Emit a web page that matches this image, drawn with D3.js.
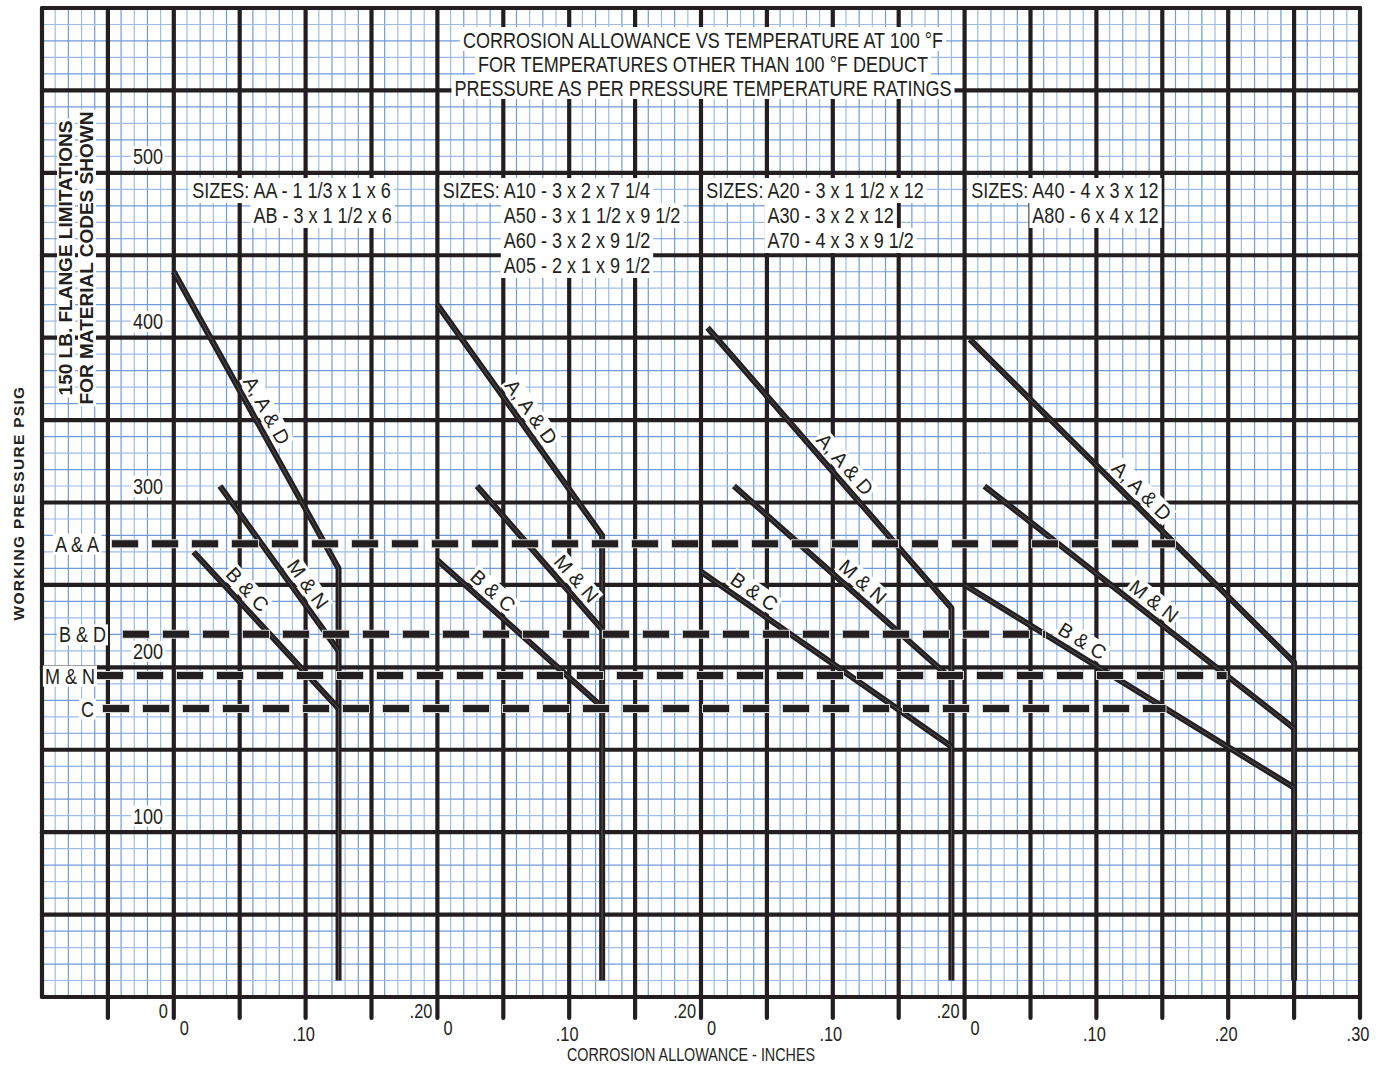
<!DOCTYPE html>
<html>
<head>
<meta charset="utf-8">
<script src="https://cdnjs.cloudflare.com/ajax/libs/d3/7.8.5/d3.min.js"></script>
<style>
    body { margin: 0; background: #fff; }
    text { font-family: "Liberation Sans", Arial, sans-serif; fill: #231f20; }
</style>
</head>
<body>
<svg id="chart" width="1383" height="1065"></svg>
<script>
// ---- data ----
const titleLines = [
    "CORROSION ALLOWANCE VS TEMPERATURE AT 100 \u00b0F",
    "FOR TEMPERATURES OTHER THAN 100 \u00b0F DEDUCT",
    "PRESSURE AS PER PRESSURE TEMPERATURE RATINGS"
];

const sizeLabels = [
    ["AA - 1 1/3 x 1 x 6", "AB - 3 x 1 1/2 x 6"],
    ["A10 - 3 x 2 x 7 1/4", "A50 - 3 x 1 1/2 x 9 1/2", "A60 - 3 x 2 x 9 1/2", "A05 - 2 x 1 x 9 1/2"],
    ["A20 - 3 x 1 1/2 x 12", "A30 - 3 x 2 x 12", "A70 - 4 x 3 x 9 1/2"],
    ["A40 - 4 x 3 x 12", "A80 - 6 x 4 x 12"]
];

const seriesNames = ["A, A & D", "M & N", "B & C"];

// per panel: start corrosion allowance (in) and pressure (psig) of each series
const startX = [[0, 0.035, 0.015], [0, 0.03, 0], [0.005, 0.025, 0], [0.004, 0.015, 0]];
const startPsi = [[430, 300, 260], [410, 300, 255], [396, 300, 248], [389, 300, 240]];
// per panel: end allowance (where the drop line is) and end pressure
const endX = [0.125, 0.125, 0.19, 0.25];
const endPsi = [[250, 200, 165], [270, 213, 166], [226, 183, 142], [193, 153, 117]];

const limitNames = ["A & A", "B & D", "M & N", "C"];
const limitPsi = [265, 210, 185, 165];
const limitEndSeries = [0, 2, 1, 2];   // series in last panel where the dashed line stops

const yTicks = [100, 200, 300, 400, 500];
const xTicks = [0, 0.10, 0.20, 0.30];
const xTickLabels = ["0", ".10", ".20", ".30"];

// ---- layout ----
const SX = 0.82;                         // condensed type
const panelCols = [10, 30, 50, 70];     // grid column of each panel's zero
const sizesAt = [0.014, 0.004, 0.004, 0.005];
const labelT = [[0.49, 0.645, 0.30], [0.50, 0.71, 0.28], [0.52, 0.55, 0.18], [0.50, 0.52, 0.335]];
const limitLabelRight = [99, 106, 95, 94];
const limitDashStart = [112, 123, 97, 103];

let svg = d3.select("#chart");

let grid = d3.scaleLinear().domain([0, 100]).range([42, 1360]);
let y = d3.scaleLinear().domain([-10, 590]).range([997, 8]);
let x = panelCols.map(c => d3.scaleLinear().domain([0, 0.30]).range([grid(c), grid(c + 30)]));

// ---- graph paper ----
let paper = svg.append("g");
let rows = d3.range(-10, 591, 10);
let cols = d3.range(0, 101, 1);
let fineColor = (i) => i % 2 ? "#9dbce8" : "#6f9bd9";

paper.selectAll(".fv").data(cols.filter(c => c % 5 !== 0)).enter().append("line")
    .attr("x1", d => grid(d)).attr("x2", d => grid(d))
    .attr("y1", y(590)).attr("y2", y(-10))
    .attr("stroke", d => fineColor(d)).attr("stroke-width", 1.2);

paper.selectAll(".fh").data(rows.filter(v => (v + 10) % 50 !== 0)).enter().append("line")
    .attr("x1", grid(0)).attr("x2", grid(100))
    .attr("y1", d => y(d)).attr("y2", d => y(d))
    .attr("stroke", d => fineColor(d / 10 + 1)).attr("stroke-width", 1.2);

paper.selectAll(".hv").data(cols.filter(c => c % 5 === 0)).enter().append("line")
    .attr("x1", d => grid(d)).attr("x2", d => grid(d))
    .attr("y1", y(590)).attr("y2", d => d === 0 ? y(-10) : y(-10) + 21)
    .attr("stroke", "#231f20").attr("stroke-width", 4.2).attr("stroke-linecap", "round");

paper.selectAll(".hh").data(rows.filter(v => (v + 10) % 50 === 0)).enter().append("line")
    .attr("x1", grid(0)).attr("x2", grid(100))
    .attr("y1", d => y(d)).attr("y2", d => y(d))
    .attr("stroke", "#231f20").attr("stroke-width", 4.2).attr("stroke-linecap", "round");

// ---- series lines ----
let lineGen = d3.line().x(d => d[0]).y(d => d[1]);
let curves = svg.append("g");

function segment(p, s) {
    return [[x[p](startX[p][s]), y(startPsi[p][s])], [x[p](endX[p]), y(endPsi[p][s])]];
}

panelCols.forEach((c, p) => {
    seriesNames.forEach((name, s) => {
        let pts = segment(p, s);
        if (s === 0) pts.push([x[p](endX[p]), y(0)]);
        curves.append("path").attr("d", lineGen(pts))
            .attr("fill", "none").attr("stroke", "#231f20")
            .attr("stroke-width", 6).attr("stroke-linejoin", "round");
        curves.append("path").attr("d", lineGen(pts))
            .attr("fill", "none").attr("stroke", "#9a9a9a")
            .attr("stroke-width", 0.6).attr("opacity", 0.7);
    });
});

// ---- flange limit dashed lines ----
let limits = svg.append("g");
limitNames.forEach((name, i) => {
    let seg = segment(3, limitEndSeries[i]);
    let yy = y(limitPsi[i]);
    let t = (yy - seg[0][1]) / (seg[1][1] - seg[0][1]);
    let xEnd = seg[0][0] + t * (seg[1][0] - seg[0][0]);
    limits.append("line")
        .attr("x1", limitDashStart[i] - 1).attr("x2", xEnd + 1)
        .attr("y1", yy).attr("y2", yy)
        .attr("stroke", "#d4d4d4").attr("stroke-width", 9)
        .attr("stroke-dasharray", "28,12");
    limits.append("line")
        .attr("x1", limitDashStart[i]).attr("x2", xEnd)
        .attr("y1", yy).attr("y2", yy)
        .attr("stroke", "#231f20").attr("stroke-width", 7)
        .attr("stroke-dasharray", "26,14");
});

// ---- text ----
let texts = svg.append("g");

function addLabel(parent, str, o) {
    let sx = o.sx || 1;
    let g = parent.append("g")
        .attr("transform", "translate(" + o.x + "," + o.y + ")" +
            (o.rotate ? " rotate(" + o.rotate + ")" : "") + " scale(" + sx + ",1)");
    let box = g.append("rect").attr("fill", "#fff");
    let t = g.append("text")
        .attr("text-anchor", o.anchor || "start")
        .attr("dy", o.dy || 0)
        .style("font-size", o.size + "px")
        .style("font-weight", o.weight || "normal")
        .style("letter-spacing", o.ls ? o.ls + "px" : null)
        .text(str);
    if (o.box) {
        let b = t.node().getBBox();
        let px = o.box[2] / sx;
        box.attr("x", b.x - px).attr("width", b.width + 2 * px)
            .attr("y", -o.box[0]).attr("height", o.box[0] + o.box[1]);
    } else {
        box.remove();
    }
    return t;
}

function textWidth(str, size) {
    let t = svg.append("text").style("font-size", size + "px").text(str);
    let w = t.node().getComputedTextLength();
    t.remove();
    return w;
}

// title
titleLines.forEach((line, i) => {
    addLabel(texts, line, {x: 703, y: 48 + i * 24, size: 22, sx: SX, anchor: "middle", box: [21, 3, 3]});
});

// sizes
let prefixW = (textWidth("SIZES: A", 22) - textWidth("A", 22)) * SX;
sizeLabels.forEach((lines, p) => {
    let x0 = x[p](sizesAt[p]);
    lines.forEach((line, i) => {
        addLabel(texts, i === 0 ? "SIZES: " + line : line,
            {x: i === 0 ? x0 : x0 + prefixW, y: 198 + i * 25, size: 22, sx: SX, box: [20, 5, 3]});
    });
});

// y tick labels
yTicks.forEach(v => {
    addLabel(texts, String(v), {x: 163, y: y(v) + 8, size: 22, sx: SX, anchor: "end", box: [18, 3, 2]});
});

// limit labels
limitNames.forEach((name, i) => {
    addLabel(texts, name, {x: limitLabelRight[i], y: y(limitPsi[i]) + 8, size: 22, sx: SX, anchor: "end", box: [18, 3, 2]});
});

// series labels along the lines
panelCols.forEach((c, p) => {
    seriesNames.forEach((name, s) => {
        let seg = segment(p, s);
        let dx = seg[1][0] - seg[0][0], dy = seg[1][1] - seg[0][1];
        let len = Math.sqrt(dx * dx + dy * dy);
        let ux = dx / len, uy = dy / len;
        let t = labelT[p][s];
        let cx = seg[0][0] + t * dx + 14 * uy;
        let cy = seg[0][1] + t * dy - 14 * ux;
        addLabel(texts, name, {x: cx, y: cy, rotate: Math.atan2(dy, dx) * 180 / Math.PI,
            size: 20, anchor: "middle", dy: "0.35em", box: [10, 10, 2]});
    });
});

// x tick labels
panelCols.forEach((c, p) => {
    xTicks.forEach((v, i) => {
        let px = x[p](v);
        if (px > grid(100) + 1) return;
        let last = p < panelCols.length - 1;
        if (last && v > 0.20 + 1e-9) return;
        if (last && Math.abs(v - 0.20) < 1e-9) {
            addLabel(texts, xTickLabels[i], {x: px - 5, y: 1018, size: 20, sx: SX, anchor: "end"});
        } else if (v === 0) {
            addLabel(texts, xTickLabels[i], {x: px + 6, y: 1035, size: 20, sx: SX});
        } else {
            addLabel(texts, xTickLabels[i], {x: px - 2, y: 1041, size: 20, sx: SX, anchor: "middle"});
        }
    });
});
addLabel(texts, "0", {x: x[0](0) - 6, y: 1018, size: 20, sx: SX, anchor: "end"});

// axis titles
addLabel(texts, "CORROSION ALLOWANCE - INCHES", {x: 691, y: 1061, size: 17.5, sx: SX, anchor: "middle"});
addLabel(texts, "WORKING PRESSURE PSIG", {x: 24, y: 503, rotate: -90, size: 15.5, weight: "bold", ls: 1.3, anchor: "middle"});
addLabel(texts, "150 LB. FLANGE LIMITATIONS", {x: 72, y: 258, rotate: -90, size: 19, weight: "bold", anchor: "middle", box: [15, 3, 2]});
addLabel(texts, "FOR MATERIAL CODES SHOWN", {x: 93, y: 258, rotate: -90, size: 19, weight: "bold", anchor: "middle", box: [15, 3, 2]});
</script>
</body>
</html>
